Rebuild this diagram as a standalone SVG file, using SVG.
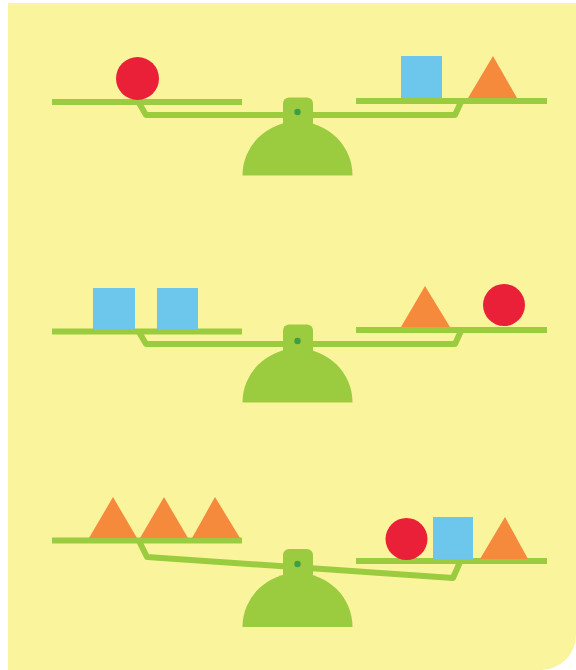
<svg xmlns="http://www.w3.org/2000/svg" width="576" height="670" viewBox="0 0 576 670">
<style>
.bg{fill:#FAF59D}
.g{fill:#9BCB3F}
.plank{stroke:#9BCB3F;stroke-width:6;fill:none}
.rod{stroke:#9BCB3F;stroke-width:6;fill:none;stroke-linejoin:round}
.dot{fill:#3E9E45}
.red{fill:#EA2039}
.blue{fill:#6DC6EC}
.org{fill:#F58A3D}
</style>
<defs>
<g id="base">
<path class="g" d="M242.5,0 A55,54 0 0 1 352.5,0 Z"/>
<rect class="g" x="283" y="-78" width="30" height="32" rx="6"/>
</g>
</defs>
<rect width="576" height="670" fill="#ffffff"/>
<path class="bg" d="M8,3 H576 V635 A35,35 0 0 1 541,670 H8 Z"/>

<g id="scale1">
<use href="#base" transform="translate(0,175.5)"/>
<line class="plank" x1="52" y1="102" x2="242" y2="102"/>
<line class="plank" x1="356" y1="101" x2="547" y2="101"/>
<polyline class="rod" points="139,103 146,115 455,115 461,102"/>
<circle class="dot" cx="297.5" cy="112" r="3.2"/>
<circle class="red" cx="137.5" cy="78.5" r="21.5"/>
<rect class="blue" x="401" y="56" width="41" height="42"/>
<polygon class="org" points="468,98 493,56 517,98"/>
</g>

<g id="scale2">
<use href="#base" transform="translate(0,402.5)"/>
<line class="plank" x1="52" y1="331.5" x2="242" y2="331.5"/>
<line class="plank" x1="356" y1="330" x2="547" y2="330"/>
<polyline class="rod" points="139,332 146,344 455,344 461,331"/>
<circle class="dot" cx="297.5" cy="341" r="3.2"/>
<rect class="blue" x="93" y="288" width="42" height="41"/>
<rect class="blue" x="157" y="288" width="41" height="41"/>
<polygon class="org" points="401,327 425,286 450,327"/>
<circle class="red" cx="504" cy="305" r="21"/>
</g>

<g id="scale3">
<use href="#base" transform="translate(0,627)"/>
<line class="plank" x1="52" y1="540.5" x2="242" y2="540.5"/>
<line class="plank" x1="356" y1="561" x2="547" y2="561"/>
<polyline class="rod" points="139,541 147,557 453,578 460,562"/>
<circle class="dot" cx="297.5" cy="564" r="3.2"/>
<polygon class="org" points="89,538 113,497 137,538"/>
<polygon class="org" points="140,538 164,497 188,538"/>
<polygon class="org" points="192,538 215,497 240,538"/>
<circle class="red" cx="406.5" cy="539" r="21"/>
<rect class="blue" x="433" y="517" width="40" height="42"/>
<polygon class="org" points="480,559 505,517 528,559"/>
</g>
</svg>
